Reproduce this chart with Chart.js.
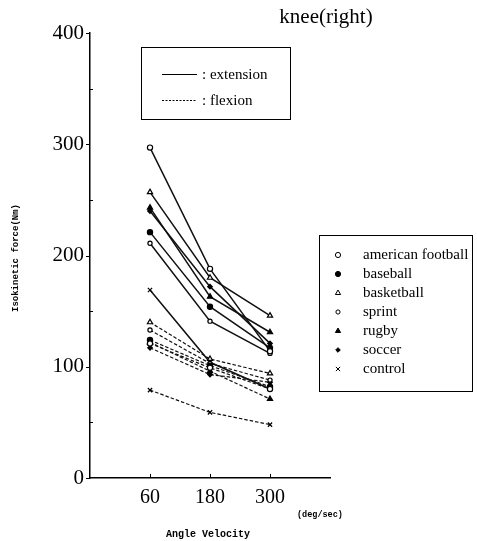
<!DOCTYPE html>
<html>
<head>
<meta charset="utf-8">
<title>knee(right)</title>
<script src="https://cdn.jsdelivr.net/npm/chart.js@4.4.1/dist/chart.umd.min.js"></script>
<style>
    html, body { margin: 0; padding: 0; background: #fff; }
    #wrap { width: 477px; height: 541px; position: relative; }
</style>
</head>
<body>
<div id="wrap"><canvas id="kneeChart"></canvas></div>
<script>
// ========================================
// DATA
// ========================================
const velocities = [60, 180, 300];
const yTicks = [0, 100, 200, 300, 400];
const sports = ['american football', 'baseball', 'basketball', 'sprint', 'rugby', 'soccer', 'control'];

// extension (solid lines), one row per sport, values at 60 / 180 / 300 deg/sec
const extensionValues = [
    [297, 188, 114],
    [221, 154, 117],
    [257, 180, 146],
    [211, 141, 112],
    [243, 163, 131],
    [240, 172, 121],
    [169, 104, 80]
];

// flexion (dashed lines)
const flexionValues = [
    [121, 99, 80],
    [124, 101, 82],
    [140, 107, 94],
    [133, 103, 88],
    [122, 96, 71],
    [117, 93, 86],
    [79, 59, 48]
];

// marker look per sport
const pointStyles = ['circle', 'circle', 'triangle', 'circle', 'triangle', 'rectRot', 'crossRot'];
const pointFilled = [false, true, false, false, true, true, false];
const pointSizes = [2.6, 2.6, 3, 2.1, 3, 2.3, 3];

const SERIF = '"Liberation Serif", "DejaVu Serif", serif';
const MONO = '"Liberation Mono", "DejaVu Sans Mono", monospace';

// ========================================
// BUILD DATASETS
// ========================================
function makeDataset(i, values, dashed) {
    return {
        label: sports[i] + (dashed ? ' flexion' : ' extension'),
        data: velocities.map((v, j) => ({ x: v, y: values[j] })),
        borderColor: '#111',
        borderWidth: dashed ? 1.2 : 1.5,
        borderDash: dashed ? [3.5, 2] : [],
        pointStyle: pointStyles[i],
        pointRadius: pointSizes[i],
        pointHoverRadius: pointSizes[i],
        pointBorderWidth: 1.2,
        pointBorderColor: '#000',
        pointBackgroundColor: pointFilled[i] ? '#000' : '#fff',
        tension: 0
    };
}

const datasets = [];
sports.forEach((s, i) => {
    datasets.push(makeDataset(i, extensionValues[i], false));
    datasets.push(makeDataset(i, flexionValues[i], true));
});

// ========================================
// EXTRA DRAWING (ticks, texts, legend boxes)
// ========================================
const decorPlugin = {
    id: 'decor',
    afterDraw(chart) {
        const ctx = chart.ctx;
        const xs = chart.scales.x;
        const ys = chart.scales.y;
        const area = chart.chartArea;
        ctx.save();
        ctx.strokeStyle = '#000';
        ctx.fillStyle = '#000';
        ctx.lineWidth = 1;

        // y ticks: outside at labels, small inside every 50
        for (let v = 0; v <= 400; v += 50) {
            const y = Math.round(ys.getPixelForValue(v)) + 0.5;
            ctx.beginPath();
            if (v % 100 === 0) {
                ctx.moveTo(area.left - 4, y);
                ctx.lineTo(area.left, y);
            } else {
                ctx.moveTo(area.left, y);
                ctx.lineTo(area.left + 3, y);
            }
            ctx.stroke();
        }
        // x ticks pointing up
        velocities.forEach(v => {
            const x = Math.round(xs.getPixelForValue(v)) + 0.5;
            ctx.beginPath();
            ctx.moveTo(x, area.bottom);
            ctx.lineTo(x, area.bottom - 4);
            ctx.stroke();
        });

        // title
        ctx.font = '21px ' + SERIF;
        ctx.textAlign = 'center';
        ctx.textBaseline = 'middle';
        ctx.fillText('knee(right)', 326, 17);

        // axis titles
        ctx.font = 'bold 8.5px ' + MONO;
        ctx.textAlign = 'left';
        ctx.fillText('(deg/sec)', 297, 515);
        ctx.font = 'bold 10px ' + MONO;
        ctx.textAlign = 'center';
        ctx.fillText('Angle Velocity', 208, 534);

        ctx.save();
        ctx.translate(16, 258);
        ctx.rotate(-Math.PI / 2);
        ctx.font = 'bold 9px ' + MONO;
        ctx.fillText('Isokinetic force(Nm)', 0, 0);
        ctx.restore();

        // extension / flexion box
        ctx.lineWidth = 1;
        ctx.strokeRect(141.5, 47.5, 149, 72);
        ctx.beginPath();
        ctx.moveTo(162, 74.5);
        ctx.lineTo(197, 74.5);
        ctx.stroke();
        ctx.setLineDash([2, 1.5]);
        ctx.beginPath();
        ctx.moveTo(162, 100.5);
        ctx.lineTo(197, 100.5);
        ctx.stroke();
        ctx.setLineDash([]);
        ctx.font = '15px ' + SERIF;
        ctx.textAlign = 'left';
        ctx.fillText(': extension', 202, 75);
        ctx.fillText(': flexion', 202, 101);

        // sports legend box
        ctx.strokeRect(319.5, 235.5, 153, 156);
        sports.forEach((s, i) => {
            const y = 255 + i * 19;
            ctx.fillStyle = pointFilled[i] ? '#000' : '#fff';
            ctx.strokeStyle = '#000';
            Chart.helpers.drawPoint(ctx, {
                pointStyle: pointStyles[i],
                radius: pointSizes[i],
                rotation: 0,
                borderWidth: 1
            }, 338, y);
            ctx.fillStyle = '#000';
            ctx.font = '15px ' + SERIF;
            ctx.fillText(s, 363, y);
        });
        ctx.restore();
    }
};

// ========================================
// CHART
// ========================================
const ctx = document.getElementById('kneeChart').getContext('2d');
const kneeChart = new Chart(ctx, {
    type: 'line',
    data: { datasets: datasets },
    options: {
        responsive: true,
        maintainAspectRatio: false,
        animation: false,
        layout: { padding: { top: 33, right: 147, left: 0, bottom: 0 } },
        plugins: {
            legend: { display: false },
            tooltip: { enabled: false },
            title: { display: false }
        },
        scales: {
            x: {
                type: 'linear',
                min: -60,
                max: 420,
                afterBuildTicks: function(scale) {
                    scale.ticks = velocities.map(v => ({ value: v }));
                },
                afterFit: function(scale) {
                    scale.height = 63;
                },
                grid: { display: false, drawTicks: false },
                border: { display: true, color: '#000', width: 1.5 },
                ticks: {
                    color: '#000',
                    padding: 8,
                    font: { family: SERIF, size: 20 }
                }
            },
            y: {
                type: 'linear',
                min: 0,
                max: 400,
                afterBuildTicks: function(scale) {
                    scale.ticks = yTicks.map(v => ({ value: v }));
                },
                afterFit: function(scale) {
                    scale.width = 90;
                },
                grid: { display: false, drawTicks: false },
                border: { display: true, color: '#000', width: 1.5 },
                ticks: {
                    color: '#000',
                    padding: 6,
                    font: { family: SERIF, size: 21 }
                }
            }
        }
    },
    plugins: [decorPlugin]
});
</script>
</body>
</html>
